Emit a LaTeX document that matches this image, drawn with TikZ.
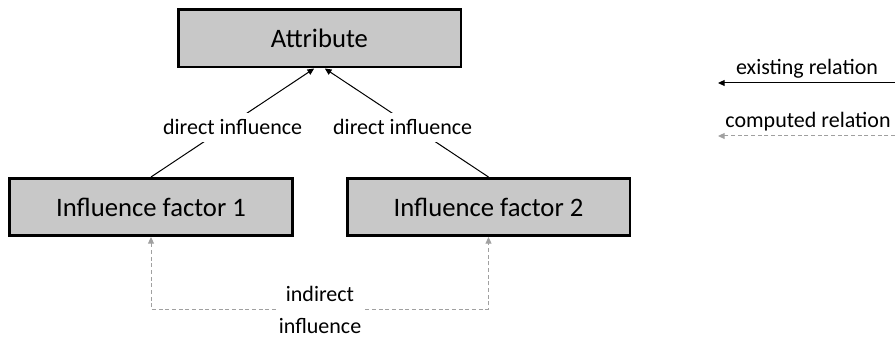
\documentclass[tikz,border=0pt]{standalone}
\usepackage{fontspec}
\setmainfont{Carlito}
\usetikzlibrary{arrows.meta,shadows}

\definecolor{boxgray}{RGB}{200,200,200}
\definecolor{relgray}{RGB}{160,160,160}

\tikzset{
  reltip/.tip={Triangle[length=5pt,width=4.5pt]},
  factorbox/.style={draw, line width=2pt, fill=boxgray, inner sep=0pt,
    minimum width=212pt, minimum height=43pt, font=\fontsize{20}{24}\selectfont,
    drop shadow={shadow xshift=0.7pt, shadow yshift=-0.7pt, fill=black!80, opacity=1}},
  rellabel/.style={font=\fontsize{16.5}{24}\selectfont, inner sep=1pt},
  existingrel/.style={line width=0.75pt},
  computedrel/.style={relgray, line width=0.75pt, dash pattern=on 3pt off 2pt},
}

\begin{document}
\begin{tikzpicture}[x=0.75pt, y=-0.75pt]
    \useasboundingbox (0,0) rectangle (895,338);
    \node[factorbox] (attr) at (319.5,38.5) {Attribute};
    \node[factorbox] (f1) at (151,207) {Influence factor 1};
    \node[factorbox] (f2) at (488.5,207) {Influence factor 2};
    \draw[existingrel, -reltip] (f1.north) -- ([xshift=-4pt]attr.south)
      node[rellabel, midway, fill=white, inner ysep=5pt, yshift=-3.5pt] (dl) {direct influence};
    \draw[existingrel, -reltip] (f2.north) -- ([xshift=4pt]attr.south)
      node[rellabel, midway, fill=white, inner ysep=5pt, yshift=-3.5pt, xshift=-3pt] (dr) {direct influence};
    \coordinate (low) at (320,309);
    \draw[computedrel, reltip-reltip] (f1.south) |- (low) -| (f2.south);
    \node[rellabel, fill=white, align=center] (ind) at (320,310) {indirect\\influence};
    % legend
    \node[rellabel] (exlabel) at (807,69) {existing relation};
    \coordinate (exR) at (895,83);
    \coordinate (exL) at (718,83);
    \draw[existingrel, -reltip] (exR) -- (exL);
    \node[rellabel] (cplabel) at (808,122) {computed relation};
    \coordinate (cpR) at (895,136);
    \coordinate (cpL) at (718,136);
    \draw[computedrel, -reltip] (cpR) -- (cpL);
  \end{tikzpicture}
\end{document}
